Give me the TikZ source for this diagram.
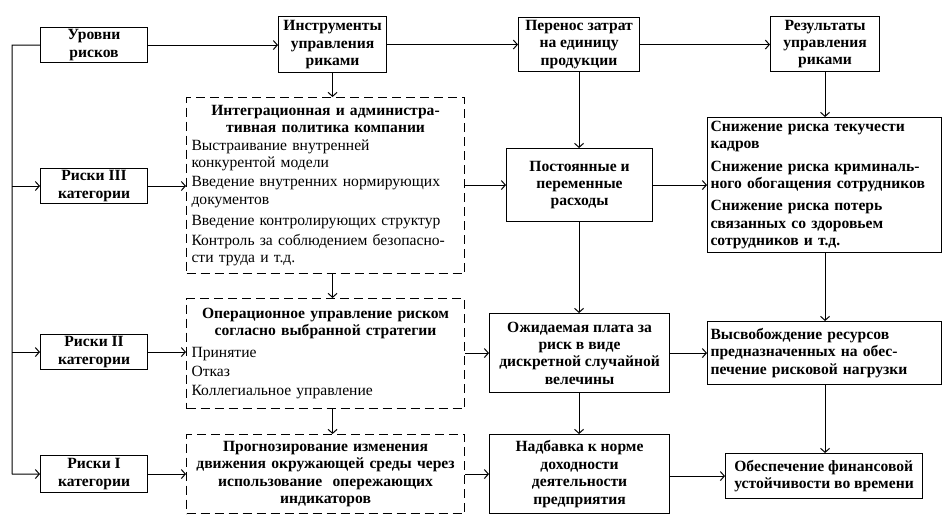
\documentclass[tikz,border=0pt]{standalone}
\usepackage{fontspec}
\setmainfont{Liberation Serif}
\usetikzlibrary{arrows.meta}
\begin{document}
\begin{tikzpicture}[x=1pt,y=-1pt,
  every node/.style={font=\fontsize{15.6}{17.4}\selectfont},
  box/.style={draw,line width=1.1pt,anchor=north west,inner sep=2pt,align=center,font=\fontsize{15.6}{17.4}\selectfont\bfseries},
  dbox/.style={draw,line width=1.1pt,dash pattern=on 9pt off 5pt,anchor=north west,inner ysep=2pt,inner xsep=5pt,align=left},
  ln/.style={line width=1pt},
  arr/.style={line width=1pt,-{Straight Barb[length=4pt,width=9pt]}}]
\useasboundingbox (0,0) rectangle (948,523);
% top row
\node[box,minimum width=107,minimum height=35] (ur) at (40,27) {Уровни\\рисков};
\node[box,minimum width=108,minimum height=56] (instr) at (278,16) {Инструменты\\управления\\риками};
\node[box,minimum width=121,minimum height=54] (per) at (518,17) {Перенос затрат\\на единицу\\продукции};
\node[box,minimum width=109,minimum height=55] (res) at (770,16) {Результаты\\управления\\риками};
% left column
\node[box,minimum width=107,minimum height=34] (r3) at (40,168) {Риски III\\категории};
\node[box,minimum width=107,minimum height=35] (r2) at (40,334) {Риски II\\категории};
\node[box,minimum width=107,minimum height=37] (r1) at (40,455) {Риски I\\категории};
% dashed boxes
\node[dbox,text width=268,minimum height=176] (d1) at (186,97) {{\centering\bfseries Интеграционная и администра-\\тивная политика компании\par}
Выстраивание внутренней\\конкурентой модели\\[2pt]
Введение внутренних нормирующих\\документов\\[4pt]
Введение контролирующих структур\\[2pt]
Контроль за соблюдением безопасно-\\сти труда и т.д.};
\node[dbox,text width=268,minimum height=110] (d2) at (186,298) {{\centering\bfseries Операционное управление риском\\согласно выбранной стратегии\par}
\vspace{4pt}Принятие\\[2pt]
Отказ\\[2pt]
Коллегиальное управление};
\node[dbox,text width=268,minimum height=79,align=center,font=\fontsize{15.6}{17.4}\selectfont\bfseries] (d3) at (186,434) {Прогнозирование изменения\\движения окружающей среды через\\использование\ \ опережающих\\индикаторов};
% middle column
\node[box,minimum width=146,minimum height=73] (pos) at (506,148) {Постоянные и\\переменные\\расходы};
\node[box,minimum width=180,minimum height=79] (ozh) at (489,313) {Ожидаемая плата за\\риск в виде\\дискретной случайной\\велечины};
\node[box,minimum width=180,minimum height=79] (nad) at (489,434) {Надбавка к норме\\доходности\\деятельности\\предприятия};
% right column
\node[box,text width=228,inner xsep=3pt,minimum height=135,align=left] (sn) at (707,117) {Снижение риска текучести\\кадров\\[5pt]
Снижение риска криминаль-\\ного обогащения сотрудников\\[5pt]
Снижение риска потерь\\связанных со здоровьем\\сотрудников и т.д.};
\node[box,text width=228,inner xsep=3pt,minimum height=63,align=left] (vys) at (707,321) {Высвобождение ресурсов\\предназначенных на обес-\\печение рисковой нагрузки};
\node[box,minimum width=197,minimum height=45,align=left] (ob) at (725,453) {Обеспечение финансовой\\устойчивости во времени};
% trunk on the left
\coordinate (tt) at (12,45);
\coordinate (tb) at (12,474);
\draw[ln] (ur.west) -- (tt) -- (tb);
\draw[arr] (tb) -- (r1.west);
\draw[arr] (tt |- r3.west) -- (r3.west);
\draw[arr] (tt |- r2.west) -- (r2.west);
% top row arrows
\draw[arr] (ur.east) -- (ur.east -| instr.west);
\draw[arr] (instr.east) -- (instr.east -| per.west);
\draw[arr] (per.east) -- (per.east -| res.west);
% verticals
\draw[arr] (instr.south) -- (instr.south |- d1.north);
\draw[arr] (instr.south |- d1.south) -- (instr.south |- d2.north);
\draw[arr] (instr.south |- d2.south) -- (instr.south |- d3.north);
\draw[arr] (per.south) -- (per.south |- pos.north);
\draw[arr] (per.south |- pos.south) -- (per.south |- ozh.north);
\draw[arr] (per.south |- ozh.south) -- (per.south |- nad.north);
\draw[arr] (res.south) -- (res.south |- sn.north);
\draw[arr] (res.south |- sn.south) -- (res.south |- vys.north);
\draw[arr] (res.south |- vys.south) -- (res.south |- ob.north);
% horizontals
\draw[arr] (r3.east) -- (r3.east -| d1.west);
\draw[arr] (d1.east |- pos.west) -- (pos.west);
\draw[arr] (pos.east) -- (pos.east -| sn.west);
\draw[arr] (r2.east) -- (r2.east -| d2.west);
\draw[arr] (d2.east |- ozh.west) -- (ozh.west);
\draw[arr] (ozh.east) -- (ozh.east -| vys.west);
\draw[arr] (r1.east) -- (r1.east -| d3.west);
\draw[arr] (d3.east) -- (d3.east -| nad.west);
\draw[arr] (nad.east |- ob.west) -- (ob.west);
\end{tikzpicture}
\end{document}
